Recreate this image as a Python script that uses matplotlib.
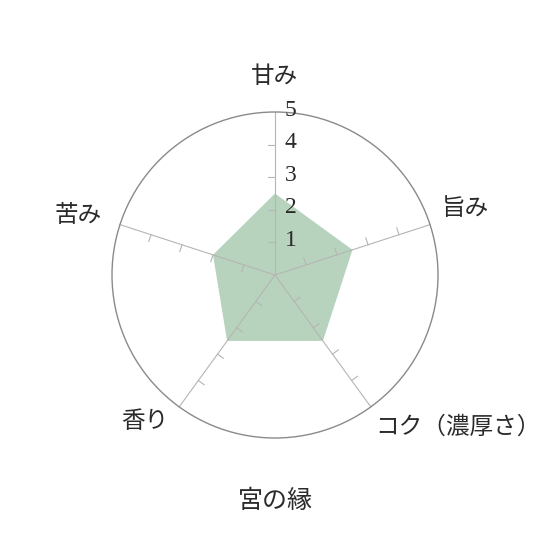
import numpy as np
import matplotlib
matplotlib.use("Agg")
import matplotlib.pyplot as plt
from matplotlib.patches import Circle, Polygon

plt.rcParams['font.family'] = ['Noto Sans CJK JP', 'DejaVu Sans']

# データ
labels = ['甘み', '旨み', 'コク（濃厚さ）', '香り', '苦み']
values = [2.5, 2.5, 2.5, 2.5, 2.0]
ticks = [1, 2, 3, 4, 5]
title = '宮の縁'
rmax = 5

# 角度 (上から時計回り)
n = len(labels)
angles = np.pi / 2 - np.arange(n) * 2 * np.pi / n

fig = plt.figure(figsize=(5.49, 5.5), dpi=100)
ax = fig.add_axes([0, 0, 1, 1])
u = 32.6  # px per unit
ax.set_xlim(-275 / u, (549 - 275) / u)
ax.set_ylim(-275 / u, 275 / u)
ax.set_aspect('equal')
ax.axis('off')

# 塗りつぶし
pts = np.column_stack([np.array(values) * np.cos(angles), np.array(values) * np.sin(angles)])
ax.add_patch(Polygon(pts, closed=True, facecolor='#8bb995', alpha=0.62, edgecolor='none', zorder=1))

# 外円
ax.add_patch(Circle((0, 0), rmax, fill=False, edgecolor='#8a8a8a', linewidth=1.0, zorder=3))

# 軸と目盛り
tl = 0.22
for a in angles:
    ax.plot([0, rmax * np.cos(a)], [0, rmax * np.sin(a)], color='#b5b5b5', linewidth=0.8, zorder=2)
    px, py = -np.sin(a), np.cos(a)  # 反時計回り側
    for t in ticks[:-1]:
        x0, y0 = t * np.cos(a), t * np.sin(a)
        ax.plot([x0, x0 + tl * px], [y0, y0 + tl * py], color='#b5b5b5', linewidth=0.8, zorder=2)

# 目盛りラベル
for t in ticks:
    ax.text(0.3, t + 0.06, str(t), ha='left', va='center', fontsize=17,
            family=['Liberation Serif', 'DejaVu Serif'], color='#2a2a2a', zorder=4)

# 項目ラベル
lr = 6.1
label_pos = [
    (lr * np.cos(angles[0]), lr * np.sin(angles[0]) + 0.0, 'center'),
    (lr * np.cos(angles[1]) + 0.05, lr * np.sin(angles[1]) + 0.15, 'center'),
    (lr * np.cos(angles[2]) - 0.5, lr * np.sin(angles[2]) + 0.25, 'left'),
    (lr * np.cos(angles[3]) + 0.3, lr * np.sin(angles[3]) + 0.45, 'right'),
    (lr * np.cos(angles[4]) - 0.25, lr * np.sin(angles[4]) - 0.05, 'center'),
]
for lab, (x, y, ha) in zip(labels, label_pos):
    ax.text(x, y, lab, ha=ha, va='center', fontsize=17, color='#2a2a2a')

# タイトル
ax.text(0, -226 / u, title, ha='center', va='center', fontsize=18, color='#2a2a2a')

fig.savefig('out.png', dpi=100)
